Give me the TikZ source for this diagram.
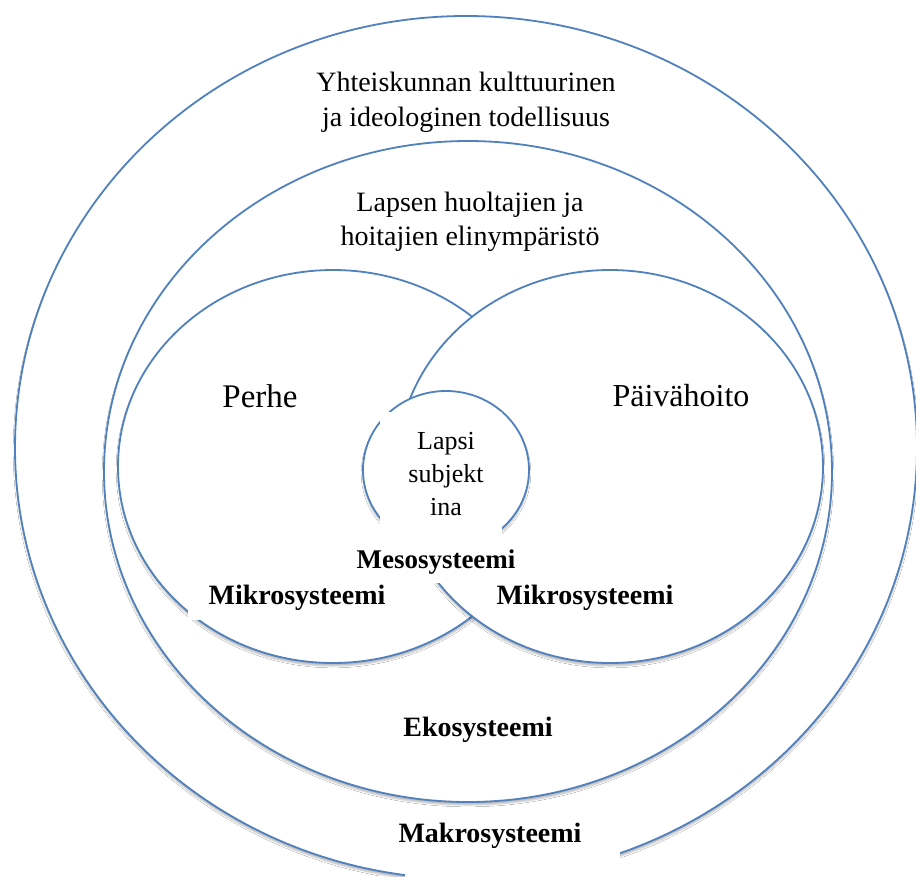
\documentclass[tikz,border=0pt]{standalone}
\usepackage{fontspec}
\setmainfont{Liberation Serif}
\usetikzlibrary{shapes.geometric,shadows.blur}
\definecolor{lineblue}{HTML}{4F81BD}
\tikzset{
  ring/.style={ellipse, draw=lineblue, line width=1.8pt, fill=white, inner sep=0pt, outer sep=0pt,
    blur shadow={shadow xshift=0pt, shadow yshift=-3pt, shadow blur radius=1.8pt, shadow opacity=28}},
  cover/.style={fill=white, inner sep=0pt, outer sep=0pt},
  lbl/.style={align=center, inner sep=0pt},
  blbl/.style={font=\fontsize{28}{35}\selectfont\bfseries, inner sep=0pt}
}
\begin{document}
\begin{tikzpicture}[x=1pt,y=-1pt]
\useasboundingbox (0,0) rectangle (916,876);
\clip (0,0) rectangle (916,876);
\fill[white] (0,0) rectangle (916,876);
% rings
\node[ring, minimum width=902pt, minimum height=863pt] (makro) at (466,447.5) {};
\node[ring, minimum width=728pt, minimum height=661pt] (eko) at (468,471.5) {};
\node[ring, minimum width=430pt, minimum height=393pt] (perhe) at (333,466.5) {};
\node[ring, minimum width=426pt, minimum height=393pt] (paiva) at (610,466.5) {};
\node[ring, minimum width=166pt, minimum height=158pt] (lapsi) at (446,470) {};
% white text boxes that hide parts of the lines
\node[cover, minimum width=122pt, minimum height=171pt] (lapsibox) at (441,497.5) {};
\node[cover, minimum width=212pt, minimum height=42pt] (mikrobox) at (294,599) {};
\node[cover, minimum width=215pt, minimum height=65pt] (makrobox) at (512.5,847.5) {};
% texts
\node[lbl, font=\fontsize{28}{35}\selectfont] (t1) at (466,102) {Yhteiskunnan kulttuurinen\\ja ideologinen todellisuus};
\node[lbl, font=\fontsize{28}{34}\selectfont] (t2) at (470,222) {Lapsen huoltajien ja\\hoitajien elinympäristö};
\node[lbl, font=\fontsize{33}{40}\selectfont] (t3) at (260,396) {Perhe};
\node[lbl, font=\fontsize{32}{40}\selectfont] (t4) at (681,396) {Päivähoito};
\node[lbl, font=\fontsize{26}{33}\selectfont] (t5) at (446,474) {Lapsi\\subjekt\\ina};
\node[blbl, font=\fontsize{27}{33}\selectfont\bfseries] (t6) at (436,562) {Mesosysteemi};
\node[blbl] (t7) at (297,598) {Mikrosysteemi};
\node[blbl] (t8) at (585,598) {Mikrosysteemi};
\node[blbl] (t9) at (478,730) {Ekosysteemi};
\node[blbl] (t10) at (490,836) {Makrosysteemi};
\end{tikzpicture}
\end{document}
